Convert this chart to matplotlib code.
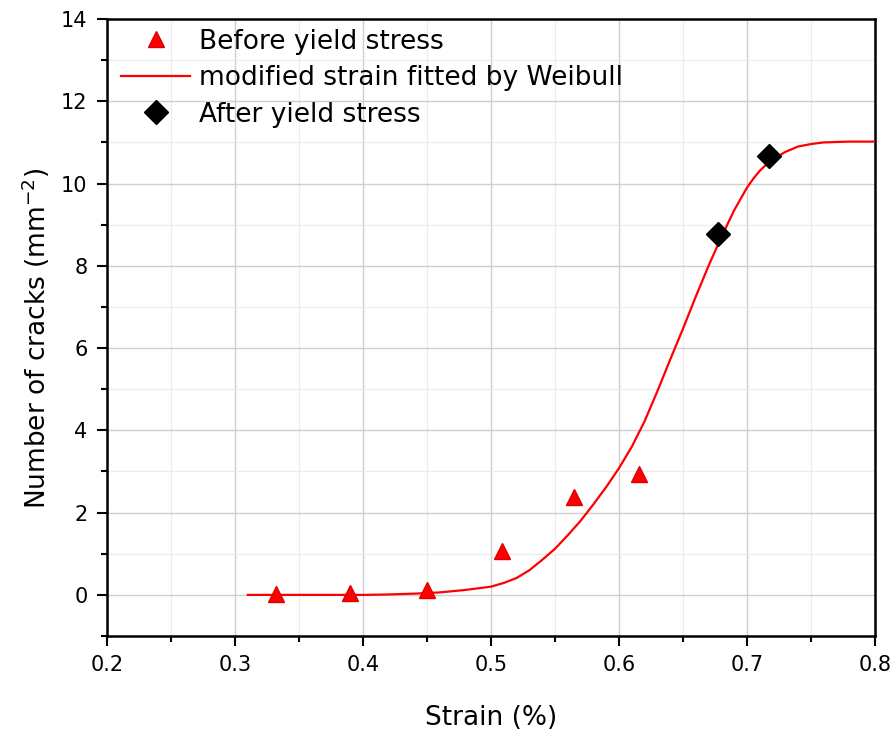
import matplotlib
matplotlib.use("Agg")
import matplotlib.pyplot as plt
from matplotlib.ticker import MultipleLocator

# Data
before_x = [0.332, 0.390, 0.450, 0.509, 0.565, 0.616]
before_y = [0.02, 0.05, 0.13, 1.07, 2.37, 2.93]

after_x = [0.677, 0.717]
after_y = [8.78, 10.68]

fit_x = [0.31, 0.35, 0.40, 0.42, 0.44, 0.46, 0.48, 0.50, 0.51, 0.52, 0.53,
         0.54, 0.55, 0.56, 0.57, 0.58, 0.59, 0.60, 0.61, 0.62, 0.63, 0.64,
         0.65, 0.66, 0.67, 0.68, 0.69, 0.70, 0.705, 0.71, 0.715, 0.72, 0.73,
         0.74, 0.75, 0.76, 0.78, 0.80]
fit_y = [0.0, 0.0, 0.0, 0.01, 0.03, 0.06, 0.12, 0.20, 0.29, 0.41, 0.60,
         0.85, 1.12, 1.45, 1.80, 2.20, 2.62, 3.08, 3.60, 4.22, 4.95, 5.72,
         6.47, 7.25, 8.00, 8.70, 9.35, 9.90, 10.12, 10.31, 10.46, 10.58, 10.77,
         10.90, 10.96, 11.00, 11.02, 11.02]

x_ticks = [0.2, 0.3, 0.4, 0.5, 0.6, 0.7, 0.8]
y_ticks = [0, 2, 4, 6, 8, 10, 12, 14]

plt.rcParams['font.family'] = ['DejaVu Sans']

fig = plt.figure(figsize=(8.93, 7.34), dpi=100)
ax = fig.add_axes([0.1198, 0.1335, 0.8600, 0.8406])

ax.plot(before_x, before_y, linestyle='none', marker='^', ms=12,
        color='#ff0000', markeredgecolor='#e00000', label='Before yield stress', zorder=4)
ax.plot(fit_x, fit_y, color='#ff0000', lw=1.6, label='modified strain fitted by Weibull', zorder=3)
ax.plot(after_x, after_y, linestyle='none', marker='D', ms=12.5,
        color='black', label='After yield stress', zorder=5)

ax.set_xlim(0.2, 0.8)
ax.set_ylim(-1, 14)
ax.set_xticks(x_ticks)
ax.set_yticks(y_ticks)
ax.xaxis.set_minor_locator(MultipleLocator(0.05))
ax.yaxis.set_minor_locator(MultipleLocator(1))
ax.set_xticklabels([f"{v:.1f}" for v in x_ticks])
ax.set_yticklabels([str(v) for v in y_ticks])

ax.grid(True, which='major', color='#cfcfcf', lw=1.0, zorder=0)
ax.grid(True, which='minor', color='#ececec', lw=0.9, zorder=0)
ax.set_axisbelow(True)

for s in ax.spines.values():
    s.set_linewidth(1.8)
ax.tick_params(which='major', direction='out', length=7, width=1.5, labelsize=15, pad=7)
ax.tick_params(which='minor', direction='out', length=4, width=1.5)
ax.tick_params(top=False, right=False, which='both')

ax.set_xlabel('Strain (%)', fontsize=19, labelpad=21)
ax.set_ylabel('Number of cracks (mm$^{-2}$)', fontsize=19)
ax.yaxis.set_label_coords(-0.072, 0.483)

leg = ax.legend(loc='upper left', frameon=False, fontsize=19, handlelength=2.6,
                handletextpad=0.35, labelspacing=0.4, borderaxespad=0.55,
                borderpad=0.0, bbox_to_anchor=(0.0, 1.0 + 5 / 617))

fig.savefig('out.png', dpi=100)
